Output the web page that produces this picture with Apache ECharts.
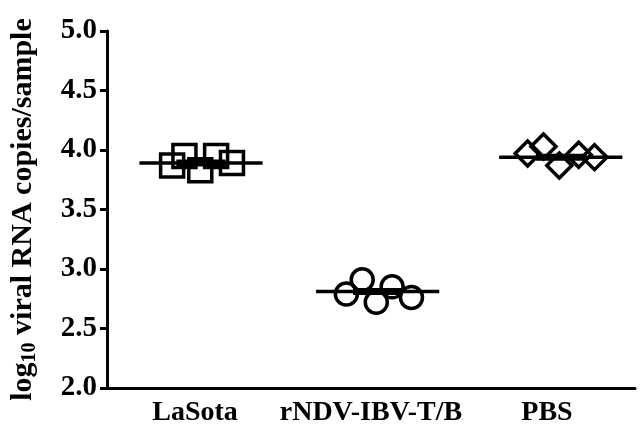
<!DOCTYPE html>
<html>
<head>
<meta charset="utf-8">
<script src="https://cdn.jsdelivr.net/npm/echarts@6/dist/echarts.min.js"></script>
<style>html,body{margin:0;padding:0;background:#fff}#c{width:640px;height:429px}</style>
</head>
<body>
<div id="c"></div>
<script>
// Data
var categories = ['LaSota', 'rNDV-IBV-T/B', 'PBS'];
var yTicks = [2.0, 2.5, 3.0, 3.5, 4.0, 4.5, 5.0];
var lasotaValues = [3.87, 3.95, 3.83, 3.95, 3.89];
var lasotaJitter = [-0.13, -0.06, 0.03, 0.12, 0.21];
var rndvValues = [2.79, 2.91, 2.72, 2.85, 2.76];
var rndvJitter = [-0.14, -0.05, 0.03, 0.12, 0.23];
var pbsValues = [3.97, 4.03, 3.87, 3.96, 3.94];
var pbsJitter = [-0.11, -0.02, 0.07, 0.18, 0.27];
var centerLines = [3.89, 2.81, 3.94];

var groups = [
  {vals: lasotaValues, jit: lasotaJitter, symbol: 'rect', size: 23},
  {vals: rndvValues, jit: rndvJitter, symbol: 'circle', size: 22},
  {vals: pbsValues, jit: pbsJitter, symbol: 'diamond', size: 25}
];
var HALF = 0.35;
var FONT = '"Liberation Serif", "Times New Roman", serif';

var series = [];
groups.forEach(function (g, i) {
  var pts = g.vals.map(function (v, k) { return [i + g.jit[k], v]; });
  var mean = g.jit.reduce(function (a, b) { return a + b; }, 0) / g.jit.length;
  series.push({
    type: 'line', xAxisIndex: 1, yAxisIndex: 0, symbol: 'none', silent: true,
    data: [[i + mean - HALF, centerLines[i]], [i + mean + HALF, centerLines[i]]],
    lineStyle: {color: '#000', width: 3.5}, z: 3
  });
  series.push({
    type: 'line', xAxisIndex: 1, yAxisIndex: 0, symbol: 'none', silent: true,
    data: [[i + mean - 0.14, centerLines[i]], [i + mean + 0.14, centerLines[i]]],
    lineStyle: {color: '#000', width: 7}, z: 3
  });
  series.push({
    type: 'scatter', xAxisIndex: 1, yAxisIndex: 0, symbol: g.symbol, symbolSize: g.size,
    data: pts,
    itemStyle: {color: 'rgba(0,0,0,0)', borderColor: '#000', borderWidth: 3.5, opacity: 1}, z: 4
  });
});

var chart = echarts.init(document.getElementById('c'));
chart.setOption({
  animation: false,
  backgroundColor: '#fff',
  grid: {left: 107, right: 5, top: 31, bottom: 41, containLabel: false, outerBoundsMode: 'none'},
  xAxis: [{
    type: 'category', data: categories, boundaryGap: true,
    axisLine: {onZero: false, lineStyle: {color: '#000', width: 3}},
    axisTick: {alignWithLabel: true, length: 8, lineStyle: {color: '#000', width: 3}},
    axisLabel: {interval: 0, color: '#000', fontFamily: FONT, fontWeight: 'bold', fontSize: 28, margin: 11},
    splitLine: {show: false}
  }, {
    type: 'value', min: -0.5, max: 2.5, show: false
  }],
  yAxis: [{
    type: 'value', min: yTicks[0], max: yTicks[yTicks.length - 1], interval: 0.5,
    axisLine: {show: true, onZero: false, lineStyle: {color: '#000', width: 3}},
    axisTick: {show: true, length: 7, lineStyle: {color: '#000', width: 3}},
    axisLabel: {color: '#000', fontFamily: FONT, fontWeight: 'bold', fontSize: 29, margin: 10,
      formatter: function (v) { return v.toFixed(1); }},
    splitLine: {show: false},
    name: '{a|log}{b|10}{a| viral RNA copies/sample}',
    nameLocation: 'middle', nameGap: 67, nameRotate: 90,
    nameTextStyle: {
      rich: {
        a: {fontFamily: FONT, fontWeight: 'bold', fontSize: 30, color: '#000'},
        b: {fontFamily: FONT, fontWeight: 'bold', fontSize: 20, color: '#000', padding: [14, 0, 0, 0]}
      }
    }
  }],
  series: series
});
</script>
</body>
</html>
